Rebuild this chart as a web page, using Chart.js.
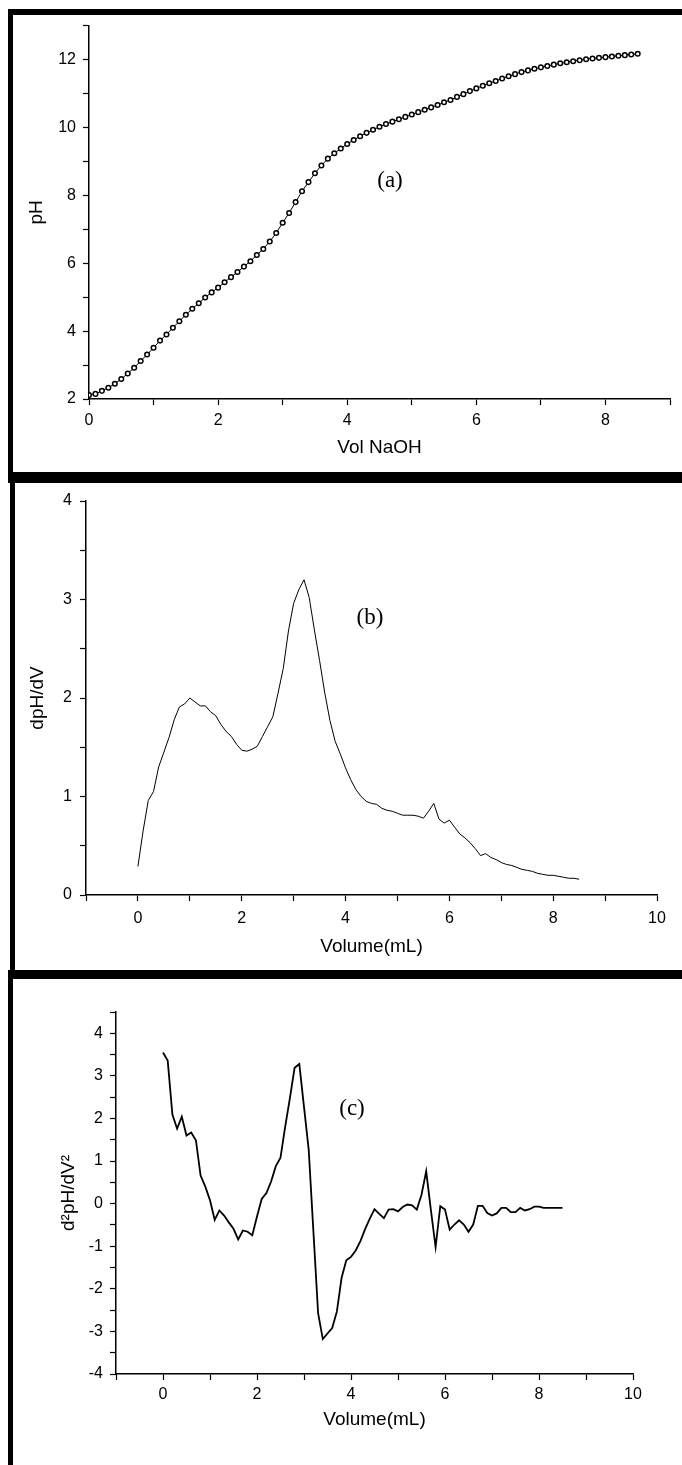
<!DOCTYPE html>
<html>
<head>
<meta charset="utf-8">
<script src="https://cdn.jsdelivr.net/npm/chart.js@4.4.1/dist/chart.umd.min.js"></script>
<style>
  html, body { margin: 0; padding: 0; background: #fff; }
  #page { position: relative; width: 682px; height: 1465px; overflow: hidden; }
  canvas { position: absolute; }
  .rule { position: absolute; background: #000; }
  .tag { position: absolute; font-family: 'Liberation Serif', 'Times New Roman', serif; font-size: 23px; color: #000; transform: translate(-50%, -50%); white-space: nowrap; }
</style>
</head>
<body>
<div id="page">
  <!-- panel frames -->
  <div class="rule" style="left:8px;top:9px;width:674px;height:6px"></div>
  <div class="rule" style="left:8px;top:9px;width:5px;height:470px"></div>
  <div class="rule" style="left:8px;top:472px;width:674px;height:11px"></div>
  <div class="rule" style="left:10px;top:472px;width:5px;height:506px"></div>
  <div class="rule" style="left:10px;top:970px;width:672px;height:9px"></div>
  <div class="rule" style="left:8px;top:970px;width:5px;height:495px"></div>

  <canvas id="chartA" width="668" height="462" style="left:14px;top:9px"></canvas>
  <canvas id="chartB" width="666" height="486" style="left:16px;top:482px"></canvas>
  <canvas id="chartC" width="668" height="480" style="left:14px;top:982px"></canvas>

  <div class="tag" style="left:390px;top:180px">(a)</div>
  <div class="tag" style="left:370px;top:617px">(b)</div>
  <div class="tag" style="left:352px;top:1108px">(c)</div>
</div>
<script>
// volume of NaOH added (mL)
const volume = [
  0.0, 0.1, 0.2, 0.3, 0.4, 0.5, 0.6, 0.7, 0.8, 0.9,
  1.0, 1.1, 1.2, 1.3, 1.4, 1.5, 1.6, 1.7, 1.8, 1.9,
  2.0, 2.1, 2.2, 2.3, 2.4, 2.5, 2.6, 2.7, 2.8, 2.9,
  3.0, 3.1, 3.2, 3.3, 3.4, 3.5, 3.6, 3.7, 3.8, 3.9,
  4.0, 4.1, 4.2, 4.3, 4.4, 4.5, 4.6, 4.7, 4.8, 4.9,
  5.0, 5.1, 5.2, 5.3, 5.4, 5.5, 5.6, 5.7, 5.8, 5.9,
  6.0, 6.1, 6.2, 6.3, 6.4, 6.5, 6.6, 6.7, 6.8, 6.9,
  7.0, 7.1, 7.2, 7.3, 7.4, 7.5, 7.6, 7.7, 7.8, 7.9,
  8.0, 8.1, 8.2, 8.3, 8.4, 8.5
];

// (a) titration curve
const pH = [
  2.12, 2.15, 2.24, 2.33, 2.45, 2.59, 2.75, 2.92, 3.12, 3.31,
  3.51, 3.72, 3.90, 4.10, 4.29, 4.48, 4.66, 4.82, 4.99, 5.14,
  5.28, 5.44, 5.59, 5.74, 5.90, 6.06, 6.24, 6.42, 6.64, 6.89,
  7.19, 7.48, 7.80, 8.12, 8.39, 8.65, 8.88, 9.08, 9.24, 9.38,
  9.51, 9.63, 9.74, 9.84, 9.93, 10.02, 10.10, 10.17, 10.24, 10.31,
  10.38, 10.45, 10.52, 10.59, 10.66, 10.74, 10.81, 10.90, 10.98, 11.07,
  11.15, 11.23, 11.30, 11.37, 11.44, 11.51, 11.57, 11.63, 11.68, 11.73,
  11.77, 11.81, 11.85, 11.89, 11.92, 11.95, 11.98, 12.01, 12.03, 12.05,
  12.07, 12.09, 12.11, 12.13, 12.15, 12.17
];

// (b) first derivative
const dpH = [
  0.29, 0.65, 0.96, 1.05, 1.30, 1.45, 1.60, 1.78, 1.91, 1.94,
  2.00, 1.96, 1.92, 1.92, 1.86, 1.82, 1.73, 1.66, 1.61, 1.53,
  1.47, 1.46, 1.48, 1.51, 1.61, 1.71, 1.81, 2.05, 2.30, 2.68,
  2.96, 3.10, 3.20, 3.02, 2.69, 2.38, 2.05, 1.77, 1.56, 1.43,
  1.29, 1.17, 1.07, 1.00, 0.95, 0.93, 0.92, 0.88, 0.86, 0.85,
  0.83, 0.81, 0.81, 0.81, 0.80, 0.78, 0.85, 0.93, 0.77, 0.73,
  0.76, 0.69, 0.62, 0.58, 0.53, 0.47, 0.40, 0.42, 0.38, 0.36,
  0.33, 0.31, 0.30, 0.28, 0.26, 0.25, 0.24, 0.22, 0.21, 0.20,
  0.20, 0.19, 0.18, 0.17, 0.17, 0.16
];

// (c) second derivative
const d2pH = [
  3.55, 3.36, 2.09, 1.76, 2.04, 1.60, 1.67, 1.49, 0.66, 0.40,
  0.08, -0.38, -0.16, -0.28, -0.44, -0.59, -0.84, -0.63, -0.66, -0.74,
  -0.30, 0.11, 0.25, 0.52, 0.88, 1.08, 1.81, 2.48, 3.19, 3.28,
  2.27, 1.27, -0.65, -2.57, -3.18, -3.05, -2.92, -2.53, -1.74, -1.33,
  -1.25, -1.10, -0.88, -0.60, -0.35, -0.13, -0.24, -0.34, -0.14, -0.13,
  -0.18, -0.08, -0.02, -0.04, -0.14, 0.21, 0.76, -0.15, -1.02, -0.06,
  -0.14, -0.61, -0.49, -0.39, -0.49, -0.66, -0.49, -0.05, -0.05, -0.22,
  -0.28, -0.23, -0.10, -0.10, -0.20, -0.20, -0.10, -0.16, -0.13, -0.07,
  -0.07, -0.10, -0.10, -0.10, -0.10, -0.10
];

Chart.defaults.font.family = "'Liberation Sans', Arial, sans-serif";
Chart.defaults.color = '#000';

const tickFont = { size: 16 };
const titleFont = { size: 19 };

// only every other tick gets a number
const evenLabel = (v) => (v % 2 === 0 ? String(v) : '');
const wholeLabel = (v) => (Number.isInteger(v) ? String(v) : '');

const xAxis = (min, max, height, text, titlePad, labelPad) => ({
  type: 'linear',
  min: min,
  max: max,
  border: { color: '#000', width: 1.5 },
  grid: { drawOnChartArea: false, color: '#000', tickLength: 6, tickWidth: 1.2 },
  ticks: { stepSize: 1, autoSkip: false, maxRotation: 0, padding: labelPad, font: tickFont, callback: evenLabel },
  title: { display: true, text: text, font: titleFont, padding: { top: 0, bottom: titlePad } },
  afterFit: (scale) => { scale.height = height; }
});

const yAxis = (min, max, step, width, text, titlePad, labelPad) => ({
  type: 'linear',
  min: min,
  max: max,
  border: { color: '#000', width: 1.5 },
  grid: { drawOnChartArea: false, color: '#000', tickLength: 6, tickWidth: 1.2 },
  ticks: { stepSize: step, autoSkip: false, padding: labelPad, font: tickFont, callback: step === 1 ? evenLabel : wholeLabel },
  title: { display: true, text: text, font: titleFont, padding: { top: titlePad, bottom: 0 } },
  afterFit: (scale) => { scale.width = width; }
});

const points = (ys) => volume.map((v, i) => ({ x: v, y: ys[i] }));

const baseOptions = (padding, scales) => ({
  responsive: false,
  animation: false,
  layout: { padding: padding },
  plugins: { legend: { display: false }, tooltip: { enabled: false } },
  scales: scales
});

// (a) pH vs volume, open circles
new Chart(document.getElementById('chartA'), {
  type: 'line',
  data: {
    datasets: [{
      data: points(pH),
      borderColor: '#000',
      borderWidth: 1,
      tension: 0,
      pointRadius: 2.3,
      pointBorderWidth: 1.5,
      pointBorderColor: '#000',
      pointBackgroundColor: '#fff'
    }]
  },
  options: baseOptions({ top: 14, right: 12, left: 0, bottom: 0 }, {
    x: xAxis(0, 9, 72, 'Vol NaOH', 12, 6),
    y: yAxis(2, 13, 1, 75, 'pH', 11, 7)
  })
});

// (b) dpH/dV
new Chart(document.getElementById('chartB'), {
  type: 'line',
  data: {
    datasets: [{
      data: points(dpH),
      borderColor: '#000',
      borderWidth: 1,
      tension: 0,
      pointRadius: 0
    }]
  },
  options: baseOptions({ top: 19, right: 25, left: 0, bottom: 0 }, {
    x: xAxis(-1, 10, 73, 'Volume(mL)', 10, 8),
    y: yAxis(0, 4, 0.5, 70, 'dpH/dV', 10, 8)
  })
});

// (c) d2pH/dV2
new Chart(document.getElementById('chartC'), {
  type: 'line',
  data: {
    datasets: [{
      data: points(d2pH),
      borderColor: '#000',
      borderWidth: 1.8,
      tension: 0,
      pointRadius: 0
    }]
  },
  options: baseOptions({ top: 30, right: 49, left: 0, bottom: 0 }, {
    x: xAxis(-1, 10, 88, 'Volume(mL)', 31, 5),
    y: yAxis(-4, 4.5, 0.5, 102, 'd²pH/dV²', 43, 7)
  })
});
</script>
</body>
</html>
